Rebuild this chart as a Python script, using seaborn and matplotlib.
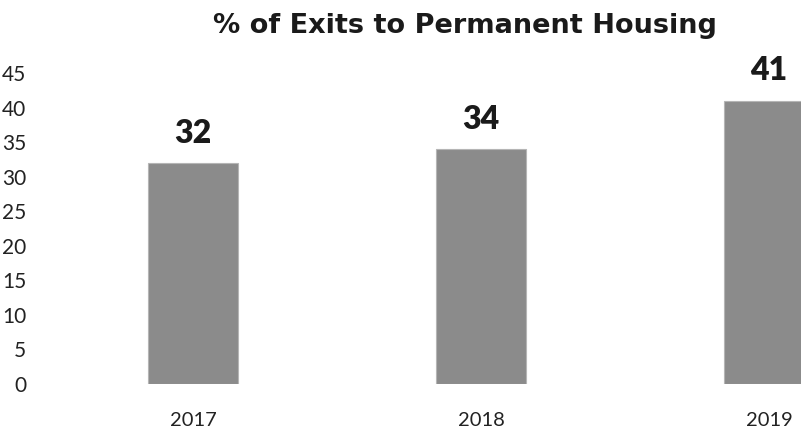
import matplotlib
matplotlib.use("Agg")
import matplotlib.pyplot as plt
import seaborn as sns
import pandas as pd

years = ["2017", "2018", "2019"]
pct_exits = [32, 34, 41]
y_ticks = [0, 5, 10, 15, 20, 25, 30, 35, 40, 45]

sns.set_theme(style="white")
plt.rcParams["font.family"] = ["Lato", "DejaVu Sans"]

df = pd.DataFrame({"year": years, "pct": pct_exits})

fig = plt.figure(figsize=(8.01, 4.29), dpi=100)
# axes placed in figure fractions; right edge runs off the last bar
ax = fig.add_axes([40 / 801, 1 - 384 / 429, 761 / 801, 311 / 429])

sns.barplot(data=df, x="year", y="pct", color="#8b8b8b", saturation=1,
            width=0.31, edgecolor="#b5b5b5", linewidth=0.8, ax=ax)

ax.set_xlim(-0.531, 2.111)
ax.set_ylim(0, 45)
ax.set_yticks(y_ticks)
ax.set_yticklabels([str(t) for t in y_ticks], fontsize=15, color="#222222")
ax.tick_params(axis="x", labelsize=14.5, colors="#222222", pad=20, length=0)
ax.tick_params(axis="y", pad=10, length=0)
for lbl in ax.get_yticklabels():
    lbl.set_horizontalalignment("right")
ax.set_xlabel("")
ax.set_ylabel("")
for side in ax.spines.values():
    side.set_visible(False)

for i, v in enumerate(pct_exits):
    ax.annotate(str(v), xy=(i, v), xytext=(0, 11), textcoords="offset points",
                ha="center", va="bottom", fontsize=23, fontweight="heavy",
                color="#1a1a1a", annotation_clip=False)

fig.text(465 / 801, 1 - 26 / 429, "% of Exits to Permanent Housing",
         ha="center", va="center", fontsize=19.5, fontweight="bold",
         family=["DejaVu Sans"], color="#1a1a1a")

fig.savefig("out.png", dpi=100)
